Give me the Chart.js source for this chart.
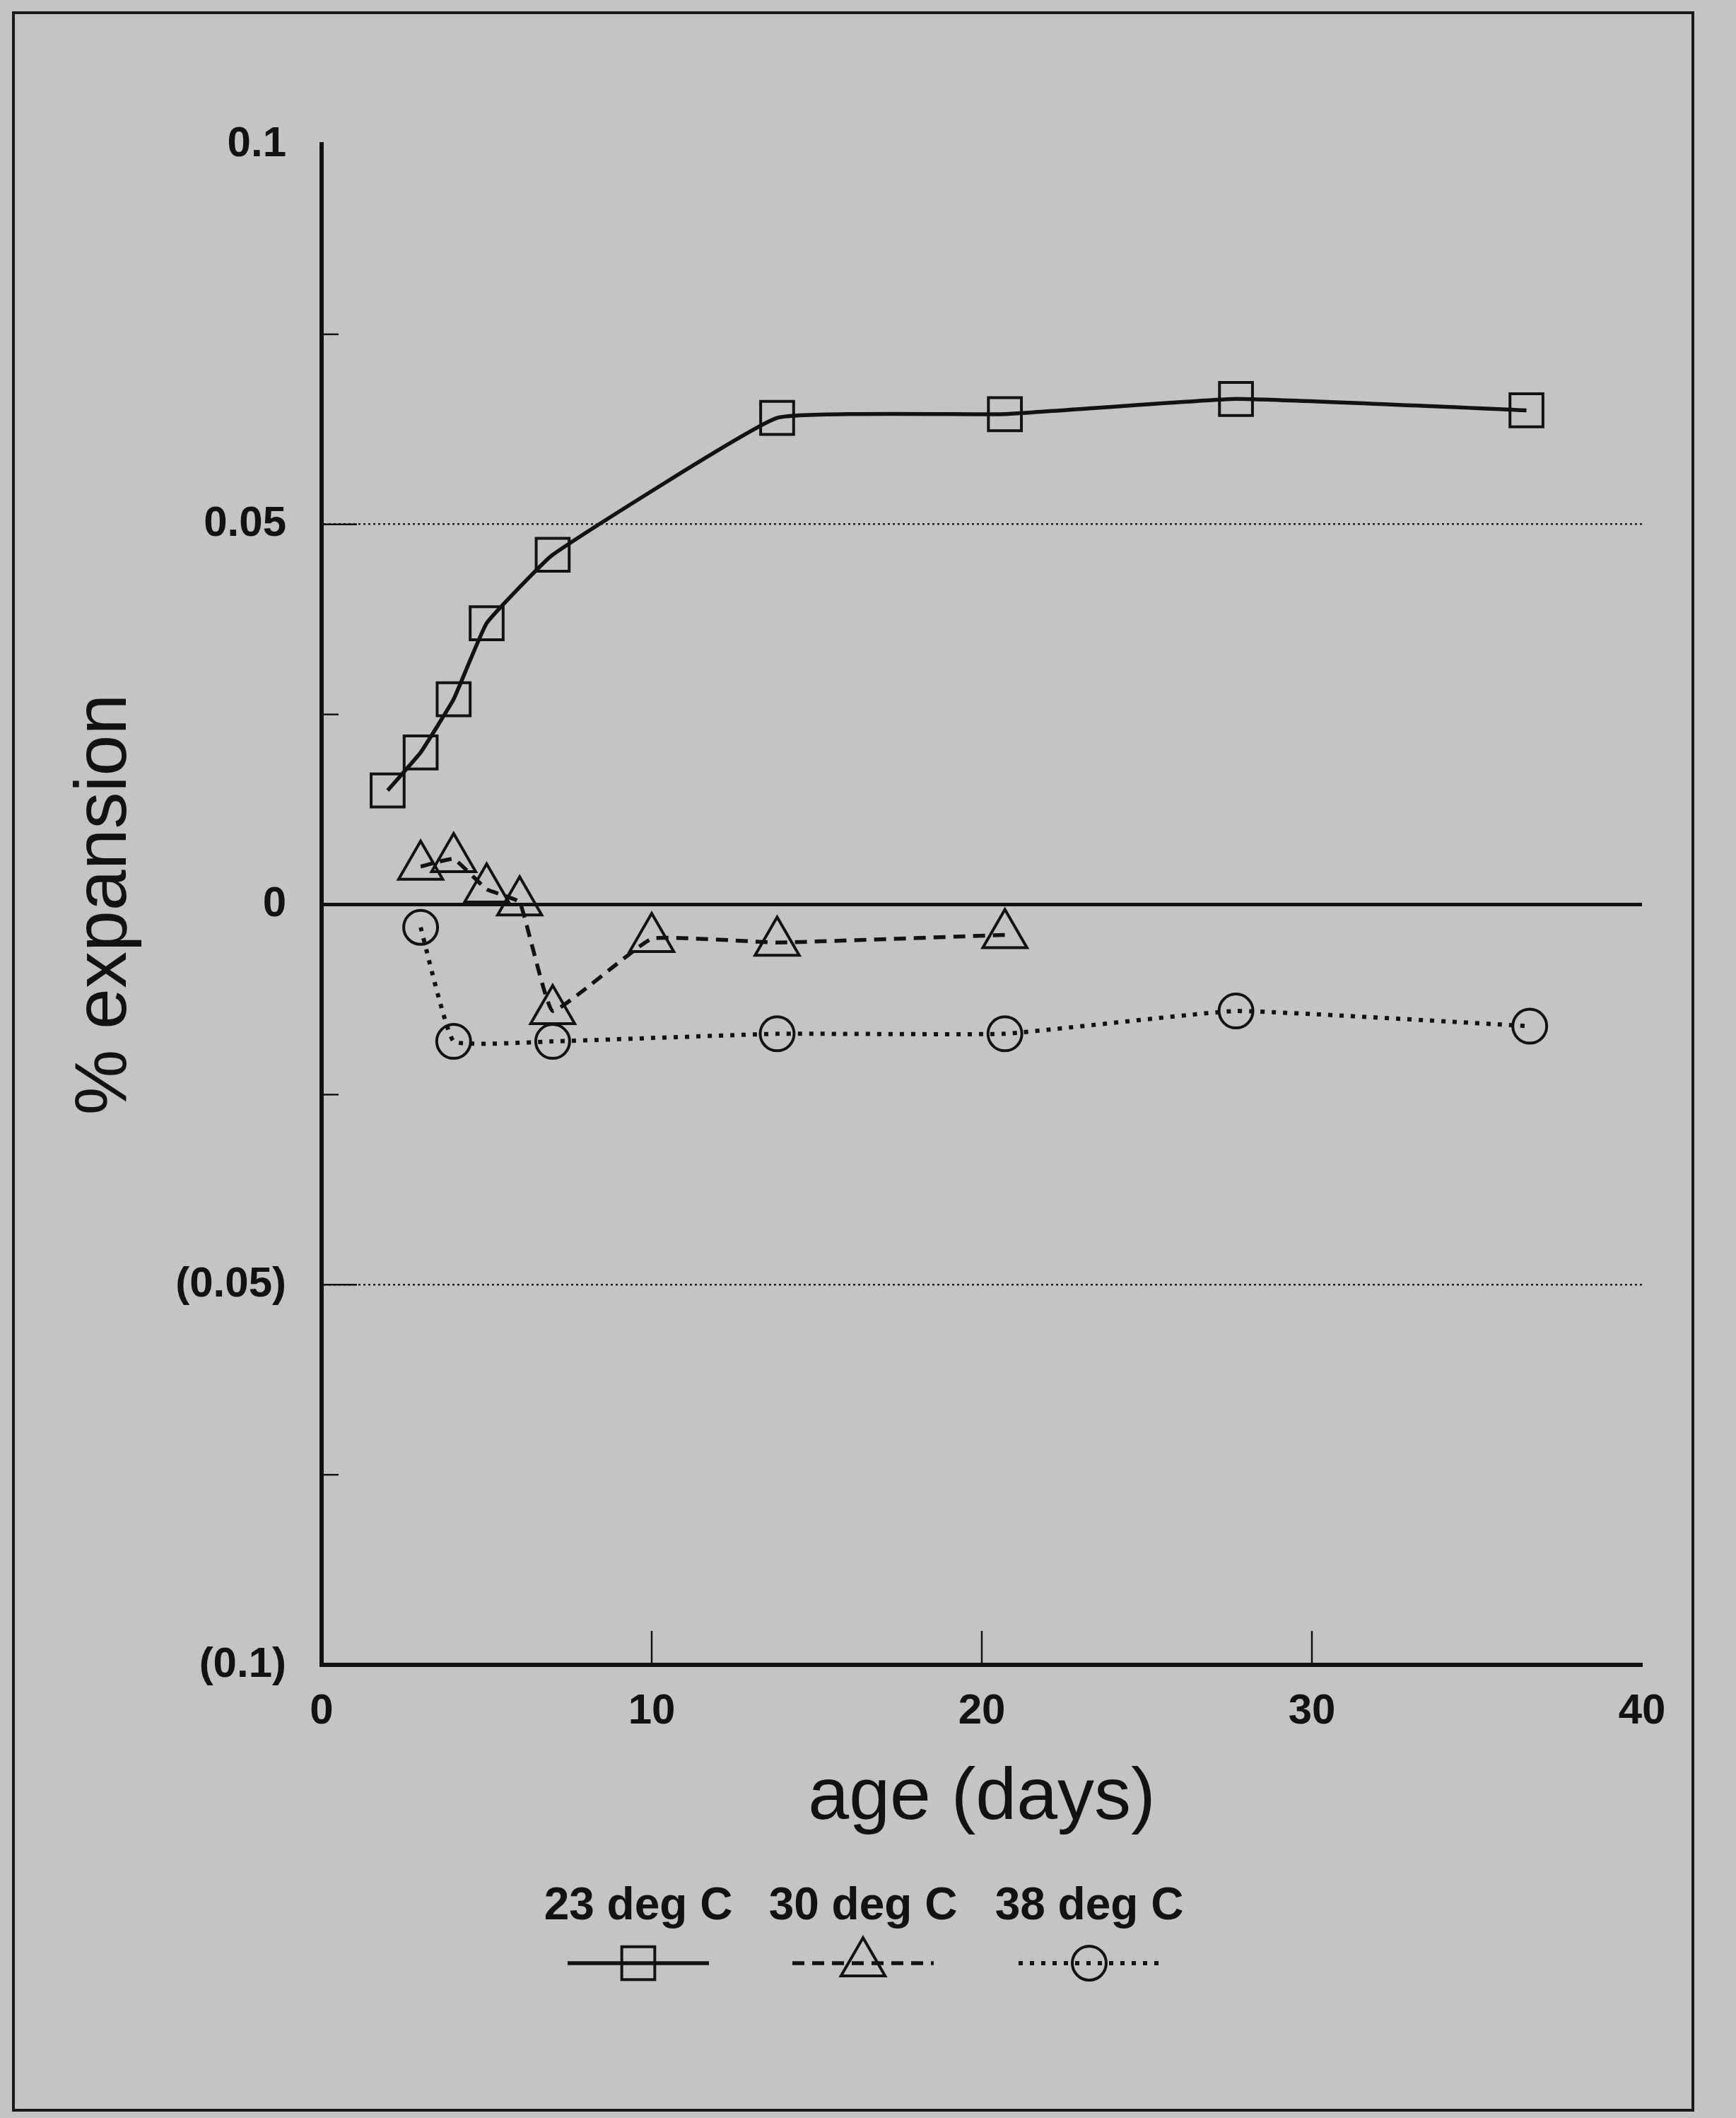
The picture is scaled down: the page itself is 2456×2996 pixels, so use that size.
<!DOCTYPE html>
<html>
<head>
<meta charset="utf-8">
<title>% expansion vs age</title>
<script src="https://cdn.jsdelivr.net/npm/chart.js@4/dist/chart.umd.min.js"></script>
<style>
	html, body { margin: 0; padding: 0; background: #c3c5c4; }
	#wrap { width: 2456px; height: 2996px; }
</style>
</head>
<body>
<div id="wrap"><canvas id="expansion-chartcanvas" width="2456" height="2996"></canvas></div>
<script>
"use strict";
// values: age in days (as placed on the axis), % expansion
const days23 = [2, 3, 4, 5, 7, 13.8, 20.7, 27.7, 36.5];
const expansion23 = [0.015, 0.020, 0.027, 0.037, 0.046, 0.064, 0.0645, 0.0665, 0.065];

const days30 = [3, 4, 5, 6, 7, 10, 13.8, 20.7];
const expansion30 = [0.005, 0.006, 0.002, 0.0003, -0.014, -0.0045, -0.005, -0.004];

const days38 = [3, 4, 7, 13.8, 20.7, 27.7, 36.6];
const expansion38 = [-0.003, -0.018, -0.018, -0.017, -0.017, -0.014, -0.016];

const seriesNames = ["23 deg C", "30 deg C", "38 deg C"];
const yTicks = [0.1, 0.05, 0, -0.05, -0.1];
const yTickLabels = ["0.1", "0.05", "0", "(0.05)", "(0.1)"];

const ink = "#121212";
const FONT = "'Liberation Sans', Arial, Helvetica, sans-serif";
Chart.defaults.font.family = FONT;
Chart.defaults.color = ink;

function toPoints(xs, ys) {
	return xs.map(function(x, i) { return { x: x, y: ys[i] }; });
}
function near(a, b) { return Math.abs(a - b) < 1e-9; }

// page background + photo frame
const framePlugin = {
	id: "frame",
	beforeDraw: function(chart) {
		const ctx = chart.ctx;
		ctx.save();
		ctx.fillStyle = "#c3c5c4";
		ctx.fillRect(0, 0, chart.width, chart.height);
		ctx.strokeStyle = "#1a1a1a";
		ctx.lineWidth = 4;
		ctx.strokeRect(19, 18, 2376, 2967);
		ctx.restore();
	}
};

// tick marks point into the plot on this chart
const innerTicks = {
	id: "innerTicks",
	beforeDatasetsDraw: function(chart) {
		const ctx = chart.ctx;
		const x = chart.scales.x, y = chart.scales.y;
		const left = chart.chartArea.left, bottom = chart.chartArea.bottom;
		ctx.save();
		ctx.strokeStyle = ink;
		ctx.lineWidth = 2.5;
		y.ticks.forEach(function(t) {
			const v = t.value;
			if (near(v, 0) || near(Math.abs(v), 0.1)) return;
			const len = near(Math.abs(v), 0.05) ? 50 : 24;
			const py = y.getPixelForValue(v);
			ctx.beginPath();
			ctx.moveTo(left, py);
			ctx.lineTo(left + len, py);
			ctx.stroke();
		});
		[10, 20, 30].forEach(function(v) {
			const px = x.getPixelForValue(v);
			ctx.beginPath();
			ctx.moveTo(px, bottom);
			ctx.lineTo(px, bottom - 48);
			ctx.stroke();
		});
		ctx.restore();
	}
};

// legend: name above, line sample with marker below
const stackedLegend = {
	id: "stackedLegend",
	afterDraw: function(chart) {
		const ctx = chart.ctx;
		const centers = [903, 1221, 1541];
		ctx.save();
		chart.data.datasets.forEach(function(ds, i) {
			const cx = centers[i];
			ctx.fillStyle = ink;
			ctx.font = "bold 64px " + FONT;
			ctx.textAlign = "center";
			ctx.textBaseline = "middle";
			ctx.fillText(ds.label, cx, 2697);

			ctx.strokeStyle = ds.borderColor;
			ctx.lineWidth = ds.borderWidth;
			ctx.setLineDash(ds.borderDash || []);
			ctx.beginPath();
			ctx.moveTo(cx - 100, 2777);
			ctx.lineTo(cx + 100, 2777);
			ctx.stroke();
			ctx.setLineDash([]);

			ctx.fillStyle = "rgba(0,0,0,0)";
			ctx.lineWidth = ds.pointBorderWidth;
			Chart.helpers.drawPoint(ctx, {
				pointStyle: ds.pointStyle,
				radius: ds.pointRadius,
				borderWidth: ds.pointBorderWidth,
				rotation: 0
			}, cx, 2777);
		});
		ctx.restore();
	}
};

let expansionCtx = document.getElementById("expansion-chartcanvas");

let expansionData = {
	datasets: [
		{
			label: seriesNames[0],
			data: toPoints(days23, expansion23),
			borderColor: ink,
			borderWidth: 5.5,
			pointStyle: "rect",
			pointRadius: 33,
			pointBorderWidth: 4,
			pointBorderColor: ink,
			pointBackgroundColor: "rgba(0,0,0,0)",
			tension: 0.1,
			fill: false
		},
		{
			label: seriesNames[1],
			data: toPoints(days30, expansion30),
			borderColor: ink,
			borderWidth: 5.5,
			borderDash: [17, 11],
			pointStyle: "triangle",
			pointRadius: 36,
			pointBorderWidth: 4,
			pointBorderColor: ink,
			pointBackgroundColor: "rgba(0,0,0,0)",
			tension: 0.1,
			fill: false
		},
		{
			label: seriesNames[2],
			data: toPoints(days38, expansion38),
			borderColor: ink,
			borderWidth: 6,
			borderDash: [6, 10],
			pointStyle: "circle",
			pointRadius: 24,
			pointBorderWidth: 4,
			pointBorderColor: ink,
			pointBackgroundColor: "rgba(0,0,0,0)",
			tension: 0.1,
			fill: false
		}
	]
};

let expansionOptions = {
	responsive: false,
	animation: false,
	devicePixelRatio: 1,
	layout: { padding: { left: 0, right: 133, top: 204, bottom: 0 } },
	plugins: {
		legend: { display: false },
		tooltip: { enabled: false }
	},
	scales: {
		x: {
			type: "linear",
			min: 0,
			max: 40,
			afterFit: function(scale) { scale.height = 641; },
			ticks: {
				stepSize: 10,
				padding: 30,
				font: { size: 60, weight: "bold" },
				color: ink
			},
			grid: { drawOnChartArea: false, drawTicks: false },
			border: { display: true, color: ink, width: 6 },
			title: {
				display: true,
				text: "age (days)",
				font: { size: 104 },
				color: ink,
				padding: { top: 0, bottom: 389 }
			}
		},
		y: {
			type: "linear",
			min: -0.1,
			max: 0.1,
			afterFit: function(scale) { scale.width = 455; },
			ticks: {
				stepSize: 0.025,
				padding: 50,
				font: { size: 60, weight: "bold" },
				color: ink,
				callback: function(value) {
					for (let i = 0; i < yTicks.length; i++) {
						if (near(value, yTicks[i])) return yTickLabels[i];
					}
					return "";
				}
			},
			grid: {
				drawTicks: false,
				color: function(c) {
					if (!c.tick) return "rgba(0,0,0,0)";
					if (near(c.tick.value, 0)) return ink;
					if (near(Math.abs(c.tick.value), 0.05)) return "#202020";
					return "rgba(0,0,0,0)";
				},
				lineWidth: function(c) {
					if (c.tick && near(c.tick.value, 0)) return 5;
					return 2.5;
				}
			},
			border: {
				display: true,
				color: ink,
				width: 6,
				dash: function(c) {
					if (c.tick && near(Math.abs(c.tick.value), 0.05)) return [3, 4];
					return [];
				}
			},
			title: {
				display: true,
				text: "% expansion",
				font: { size: 104 },
				color: ink,
				padding: { top: 87, bottom: 0 }
			}
		}
	}
};

let expansionChart = new Chart(expansionCtx, {
	type: "line",
	data: expansionData,
	options: expansionOptions,
	plugins: [framePlugin, innerTicks, stackedLegend]
});
</script>
</body>
</html>
